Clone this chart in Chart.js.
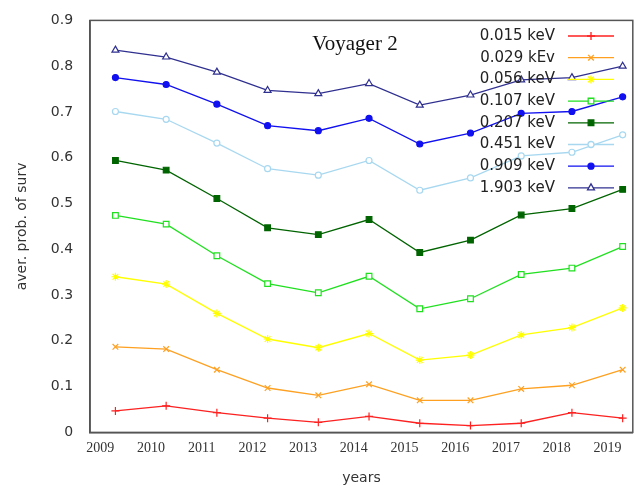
<!DOCTYPE html>
<html>
<head>
<meta charset="utf-8">
<script src="https://cdn.jsdelivr.net/npm/chart.js@4"></script>
<style>
  html, body { margin: 0; padding: 0; background: #fff; }
  #wrap { width: 638px; height: 491px; }
</style>
</head>
<body>
<div id="wrap"><canvas id="chart"></canvas></div>
<script>
const years = [2009.3, 2010.3, 2011.3, 2012.3, 2013.3, 2014.3, 2015.3, 2016.3, 2017.3, 2018.3, 2019.3];
const tickYears = [2009, 2010, 2011, 2012, 2013, 2014, 2015, 2016, 2017, 2018, 2019];
const labels = ["0.015 keV", "0.029 kEv", "0.056 keV", "0.107 keV", "0.207 keV", "0.451 keV", "0.909 keV", "1.903 keV"];
const e015 = [0.047, 0.058, 0.043, 0.031, 0.022, 0.035, 0.020, 0.015, 0.020, 0.043, 0.031];
const e029 = [0.187, 0.182, 0.137, 0.097, 0.081, 0.105, 0.070, 0.070, 0.095, 0.103, 0.137];
const e056 = [0.340, 0.324, 0.260, 0.204, 0.185, 0.216, 0.158, 0.169, 0.213, 0.229, 0.272];
const e107 = [0.474, 0.455, 0.386, 0.325, 0.305, 0.341, 0.270, 0.292, 0.345, 0.359, 0.406];
const e207 = [0.594, 0.573, 0.511, 0.447, 0.432, 0.465, 0.393, 0.420, 0.475, 0.489, 0.531];
const e451 = [0.701, 0.684, 0.632, 0.576, 0.562, 0.594, 0.529, 0.556, 0.604, 0.612, 0.650];
const e909 = [0.775, 0.760, 0.717, 0.670, 0.659, 0.686, 0.630, 0.654, 0.697, 0.701, 0.733];
const e1903 = [0.835, 0.820, 0.787, 0.747, 0.740, 0.762, 0.715, 0.737, 0.770, 0.775, 0.800];

const series = [e015, e029, e056, e107, e207, e451, e909, e1903];
const colors = ["#ff2020", "#ffa020", "#ffff00", "#20e020", "#006400", "#a8d8f0", "#1010f0", "#303090"];
const styles = ["cross", "crossRot", "star", "rect", "rect", "circle", "circle", "triangle"];
const fills  = [null, null, null, "#fff", "#006400", "#fff", "#1010f0", "#fff"];
const radii  = [4, 4, 4, 4, 4, 3, 3, 4];

const datasets = series.map((vals, i) => ({
  label: labels[i],
  data: vals.map((v, j) => ({ x: years[j], y: v })),
  borderColor: colors[i],
  backgroundColor: fills[i] || colors[i],
  pointStyle: styles[i],
  pointRadius: radii[i],
  pointBorderWidth: 1.2,
  borderWidth: 1.3,
  tension: 0
}));

const legendPlugin = {
  id: "gpLegend",
  afterDraw(chart) {
    const ctx = chart.ctx;
    const a = chart.chartArea;
    ctx.save();
    ctx.strokeStyle = "#555";
    ctx.lineWidth = 1.5;
    ctx.strokeRect(a.left, a.top, a.right - a.left, a.bottom - a.top);
    ctx.font = "15px 'DejaVu Sans'";
    ctx.textAlign = "right";
    ctx.textBaseline = "middle";
    chart.data.datasets.forEach((ds, i) => {
      const y = 36 + i * 21.7;
      ctx.fillStyle = "#222";
      ctx.fillText(ds.label, 555, y);
      ctx.strokeStyle = ds.borderColor;
      ctx.lineWidth = 1.3;
      ctx.beginPath(); ctx.moveTo(568, y); ctx.lineTo(614, y); ctx.stroke();
      ctx.fillStyle = ds.backgroundColor;
      ctx.strokeStyle = ds.borderColor;
      Chart.helpers.drawPoint(ctx, { pointStyle: ds.pointStyle, radius: ds.pointRadius, rotation: 0, borderWidth: 1.2 }, 591, y);
    });
    ctx.font = "21px 'Liberation Serif'";
    ctx.textAlign = "center";
    ctx.fillStyle = "#111";
    ctx.fillText("Voyager 2", 355, 44);
    ctx.restore();
  }
};

new Chart(document.getElementById("chart"), {
  type: "line",
  data: { datasets },
  plugins: [legendPlugin],
  options: {
    responsive: true,
    maintainAspectRatio: false,
    animation: false,
    layout: { padding: { top: 12, right: 5, left: 10, bottom: 0 } },
    plugins: { legend: { display: false }, tooltip: { enabled: false } },
    scales: {
      x: {
        type: "linear", min: 2008.8, max: 2019.5,
        afterBuildTicks: s => { s.ticks = tickYears.map(v => ({ value: v })); },
        grid: { display: false, drawTicks: true, tickLength: 5 },
        border: { color: "#555", width: 1.5 },
        ticks: { color: "#333", font: { family: "'Liberation Serif'", size: 14 },
                 callback: v => String(v) },
        title: { display: true, text: "years", color: "#333", font: { family: "'DejaVu Sans'", size: 14 }, padding: { top: 10 } }
      },
      y: {
        min: 0, max: 0.9,
        grid: { display: false, tickLength: 5 },
        border: { color: "#555", width: 1.5 },
        ticks: { stepSize: 0.1, color: "#333", padding: 12, font: { family: "'DejaVu Sans'", size: 14 },
                 callback: v => String(Math.round(v * 10) / 10) },
        title: { display: true, text: "aver. prob. of surv", color: "#333", padding: { bottom: 8 }, font: { family: "'DejaVu Sans'", size: 14 } }
      }
    }
  }
});
</script>
</body>
</html>
